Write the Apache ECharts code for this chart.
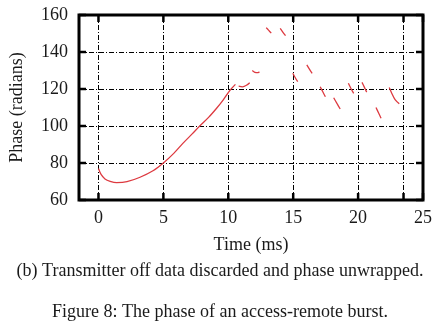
<!DOCTYPE html>
<html><head><meta charset="utf-8">
<script src="https://cdn.jsdelivr.net/npm/echarts@6/dist/echarts.min.js"></script>
<style>html,body{margin:0;padding:0;background:#fff}#c{width:440px;height:336px}</style>
</head><body><div id="c"></div>
<script>
// Time (ms) and phase (radians); null separates the disconnected pieces
const timeMs = [
  0, 0.2, 0.5, 0.9, 1.4, 2.2, 3.2, 4.2, 5.0, 5.8, 6.5, 7.2, 7.8, 8.5, 9.1, 9.6, 10.1, 10.55, null,
  10.8, 11.1, 11.4, 11.65, null,
  11.85, 12.05, 12.3, 12.4, null,
  12.92, 13.1, 13.31, null,
  14.0, 14.2, 14.41, null,
  14.97, 15.15, 15.35, null,
  16.05, 16.25, 16.46, null,
  17.08, 17.28, 17.48, null,
  18.12, 18.37, 18.62, null,
  19.25, 19.45, 19.66, null,
  20.3, 20.48, 20.66, null,
  21.38, 21.58, 21.77, null,
  22.4, 22.6, 22.85, 23.17
];
const phaseRad = [
  77, 73.8, 71.4, 70.1, 69.4, 69.9, 72.3, 75.8, 80, 85.2, 90.6, 95.6, 100, 104.8, 109.6, 114, 119, 122.5, null,
  121.5, 121.2, 122, 123.4, null,
  130, 129, 128.8, 129.3, null,
  153.2, 151.8, 150.2, null,
  152.8, 150.8, 148.8, null,
  128.5, 126.2, 124, null,
  133, 130.7, 128.5, null,
  121.2, 118.5, 115.8, null,
  115.3, 112.2, 109.2, null,
  123.1, 120.3, 117.6, null,
  123.6, 121, 118.3, null,
  110, 107, 104.2, null,
  120.8, 117.6, 114.2, 112
];
const xTicks = [0, 5, 10, 15, 20, 23.5, 25];
const xLabels = [0, 5, 10, 15, 20, 25];
const yTicks = [60, 80, 100, 120, 140, 160];
const yMin = 60, yMax = 160, yStep = 20;
const xMin = -1.5, xMax = 25;
const xTitle = 'Time (ms)';
const yTitle = 'Phase (radians)';
const caption = '(b) Transmitter off data discarded and phase unwrapped.';
const figCaption = 'Figure 8: The phase of an access-remote burst.';

// split into segments
const segs = [];
let cur = [];
timeMs.forEach((t, i) => {
  if (t === null) { if (cur.length) segs.push(cur); cur = []; }
  else cur.push([t, phaseRad[i]]);
});
if (cur.length) segs.push(cur);

// tick marks on all four sides: [x, y, dx, dy]
const tickData = [];
yTicks.forEach(v => { tickData.push([xMin, v, 1, 0]); tickData.push([xMax, v, -1, 0]); });
xTicks.forEach(v => { tickData.push([v, yMin, 0, -1]); tickData.push([v, yMax, 0, 1]); });

const FONT = 'Liberation Serif';
const FS = 18;
const TXT = '#1a1a1a';
const TICK_LEN = 7;
const dashDot = [5, 2, 1, 2];
const chart = echarts.init(document.getElementById('c'), null, {renderer: 'canvas'});

const xBase = {
  type: 'value', min: xMin, max: xMax,
  axisLine: {show: false, onZero: false},
  axisTick: {show: false, customValues: xTicks},
  splitLine: {show: false}
};
const yBase = {
  type: 'value', min: yMin, max: yMax, interval: yStep,
  axisLine: {show: false, onZero: false},
  axisTick: {show: false},
  splitLine: {show: false}
};

chart.setOption({
  animation: false,
  backgroundColor: '#fff',
  grid: {left: 79, right: 17, top: 15, bottom: 136, show: true, borderColor: '#000', borderWidth: 3, backgroundColor: 'transparent', containLabel: false},
  xAxis: [
    Object.assign({}, xBase, {
      position: 'bottom',
      splitLine: {show: true, lineStyle: {color: '#000', width: 1, type: dashDot}},
      axisLabel: {show: true, customValues: xLabels, margin: 9, fontFamily: FONT, fontSize: FS, color: TXT},
      name: xTitle, nameLocation: 'middle', nameGap: 36,
      nameTextStyle: {fontFamily: FONT, fontSize: FS, color: TXT}
    })
  ],
  yAxis: [
    Object.assign({}, yBase, {
      position: 'left',
      splitLine: {show: true, lineStyle: {color: '#000', width: 1, type: dashDot}},
      axisLabel: {show: true, margin: 11, fontFamily: FONT, fontSize: FS, color: TXT},
      name: yTitle, nameLocation: 'middle', nameGap: 53, nameRotate: 90,
      nameTextStyle: {fontFamily: FONT, fontSize: FS, color: TXT}
    })
  ],
  series: segs.map(s => ({
    type: 'line', data: s,
    showSymbol: false, smooth: 0.3, z: 5,
    lineStyle: {color: '#dd3a40', width: 1.3}
  })).concat([{
    type: 'custom', data: tickData, clip: false, z: 6, silent: true,
    renderItem: (params, api) => {
      const p = api.coord([api.value(0), api.value(1)]);
      const dx = api.value(2), dy = api.value(3);
      return {
        type: 'line',
        shape: {x1: p[0], y1: p[1], x2: p[0] + dx * TICK_LEN, y2: p[1] + dy * TICK_LEN},
        style: {stroke: '#000', lineWidth: 2.5}
      };
    }
  }]),
  graphic: [
    {type: 'text', left: 'center', top: 262, style: {text: caption, font: FS + 'px "Liberation Serif"', fill: TXT}},
    {type: 'text', left: 'center', top: 303, style: {text: figCaption, font: FS + 'px "Liberation Serif"', fill: TXT}}
  ]
});
</script></body></html>
